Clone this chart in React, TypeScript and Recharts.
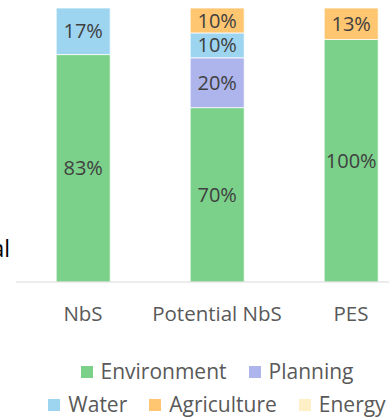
import { BarChart, Bar, XAxis, YAxis, LabelList } from "recharts";

const FONT = "'Open Sans', sans-serif";

const categories = ["NbS", "Potential NbS", "PES"];
const environment = [83, 70, 100];
const planning = [0, 20, 0];
const water = [17, 10, 0];
const agriculture = [0, 10, 13];
const energy = [0, 0, 0];

const SERIES = [
  { key: "environment", name: "Environment", color: "#7BD18A", values: environment },
  { key: "planning", name: "Planning", color: "#AEB4EC", values: planning },
  { key: "water", name: "Water", color: "#9DD5F0", values: water },
  { key: "agriculture", name: "Agriculture", color: "#FFC672", values: agriculture },
  { key: "energy", name: "Energy", color: "#FFEFC6", values: energy },
];

const LEGEND_ROWS = [
  ["environment", "planning"],
  ["water", "agriculture", "energy"],
];

const data = categories.map((c, i) => {
  const row: any = { name: c };
  SERIES.forEach((s) => (row[s.key] = s.values[i]));
  return row;
});

function LegendItem({ name, color }: { name: string; color: string }) {
  return (
    <div style={{ display: "flex", alignItems: "center", gap: 8 }}>
      <span style={{ width: 12, height: 12, background: color, display: "inline-block" }} />
      <span>{name}</span>
    </div>
  );
}

export default function App() {
  return (
    <div
      style={{
        position: "absolute",
        left: 0,
        top: 0,
        width: 389,
        height: 417,
        overflow: "hidden",
        background: "#fff",
        fontFamily: FONT,
      }}
    >
      {/* cut-off axis title on the left edge */}
      <div
        style={{
          position: "absolute",
          right: 379,
          top: 232,
          fontSize: 23,
          color: "#000",
          whiteSpace: "nowrap",
        }}
      >
        Total
      </div>

      <div style={{ position: "absolute", left: 0, top: 0 }}>
        <BarChart
          width={420}
          height={340}
          data={data}
          stackOffset="expand"
          barCategoryGap="30%"
          margin={{ top: 8, right: 2, left: 16, bottom: 40 }}
        >
          <XAxis
            dataKey="name"
            height={18}
            tickLine={false}
            tickMargin={18}
            axisLine={{ stroke: "#D9D9D9", strokeWidth: 1 }}
            tick={{ fill: "#595959", fontSize: 20.5, fontFamily: FONT }}
            interval={0}
          />
          <YAxis hide domain={[0, 1]} />
          {SERIES.map((s) => (
            <Bar
              key={s.key}
              dataKey={s.key}
              name={s.name}
              stackId="a"
              fill={s.color}
              stroke="#fff"
              strokeWidth={0.75}
              isAnimationActive={false}
            >
              <LabelList
                dataKey={s.key}
                position="center"
                formatter={(v: any) => (v ? `${v}%` : "")}
                style={{ fill: "#404040", fontSize: 20, fontFamily: FONT }}
              />
            </Bar>
          ))}
        </BarChart>
      </div>

      <div
        style={{
          position: "absolute",
          left: 0,
          top: 355,
          width: 434,
          fontSize: 21,
          lineHeight: 1,
          color: "#595959",
        }}
      >
        {LEGEND_ROWS.map((row, i) => (
          <div
            key={i}
            style={{
              display: "flex",
              justifyContent: "center",
              gap: 22,
              height: 33,
              alignItems: "center",
            }}
          >
            {row.map((k) => {
              const s = SERIES.find((x) => x.key === k)!;
              return <LegendItem key={k} name={s.name} color={s.color} />;
            })}
          </div>
        ))}
      </div>
    </div>
  );
}
